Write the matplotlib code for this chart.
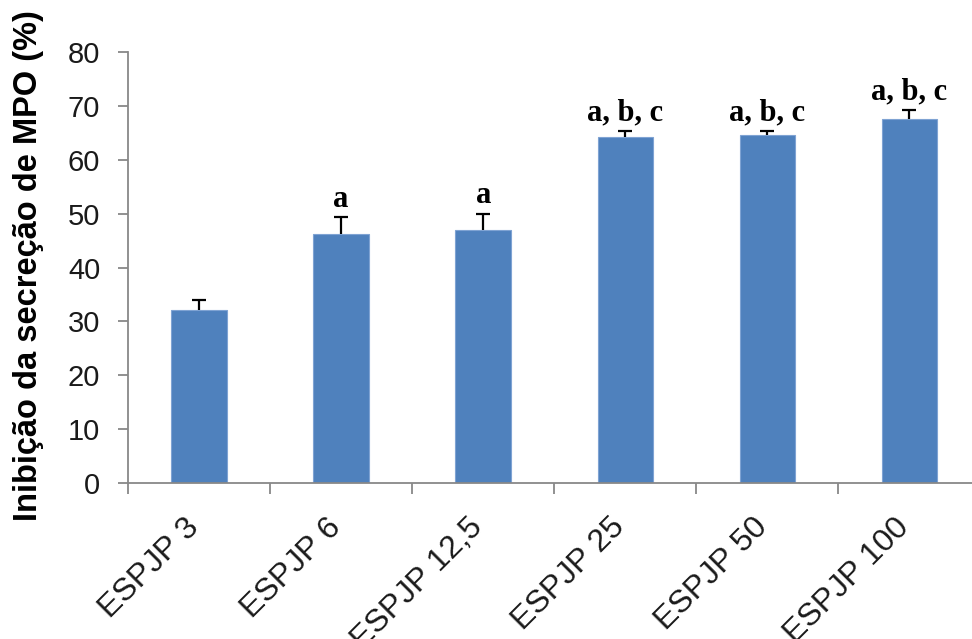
import matplotlib.pyplot as plt
import numpy as np

# dados
grupos = ["ESPJP 3", "ESPJP 6", "ESPJP 12,5", "ESPJP 25", "ESPJP 50", "ESPJP 100"]
inibicao = [32.1, 46.3, 47.0, 64.2, 64.6, 67.5]
erro = [1.9, 3.0, 3.0, 1.1, 0.7, 1.7]
letras = ["", "a", "a", "a, b, c", "a, b, c", "a, b, c"]

fig = plt.figure(figsize=(9.72, 6.39), dpi=100)
ax = fig.add_axes([0.1317, 0.2441, 0.877, 0.6745])

x = np.arange(len(grupos))
ax.bar(x, inibicao, width=0.39, color="#4F81BD", edgecolor="#7FA3D3", linewidth=0.8, zorder=2)
eb = ax.errorbar(x, inibicao, yerr=[np.zeros(len(erro)), erro], fmt="none",
                 ecolor="black", elinewidth=1.6, capsize=5, capthick=1.6, zorder=3)
eb[1][0].set_visible(False)  # so a barra de cima

for i in range(len(grupos)):
    if letras[i]:
        ax.text(x[i], inibicao[i] + erro[i] + 0.7, letras[i], ha="center", va="bottom",
                fontsize=22, fontweight="bold", family="Liberation Serif")

ax.set_xlim(-0.5, 5.5)
ax.set_ylim(0, 80)
ax.set_yticks(range(0, 81, 10))
ax.set_yticklabels([str(v) for v in range(0, 81, 10)], fontsize=21,
                   family="Liberation Sans", color="#1a1a1a")
ax.set_xticks(np.arange(-0.5, 6, 1))
ax.set_xticklabels([])
ax.tick_params(axis="y", length=7, width=1.3, color="#888888", pad=13)
ax.tick_params(axis="x", length=8, width=1.3, color="#888888")

for i, g in enumerate(grupos):
    ax.annotate(g, xy=(x[i], 0), xycoords="data", xytext=(-11, -21), textcoords="offset points",
                rotation=45, ha="right", va="top", rotation_mode="anchor",
                fontsize=23, family="Liberation Sans", color="#1a1a1a")

for s in ["top", "right"]:
    ax.spines[s].set_visible(False)
for s in ["left", "bottom"]:
    ax.spines[s].set_color("#888888")
    ax.spines[s].set_linewidth(1.3)

fig.text(0.029, 0.585, "Inibição da secreção de MPO (%)", rotation=90, ha="center", va="center",
         fontsize=23.5, fontweight="bold", family="Liberation Sans")

fig.savefig("out.png", dpi=100)
